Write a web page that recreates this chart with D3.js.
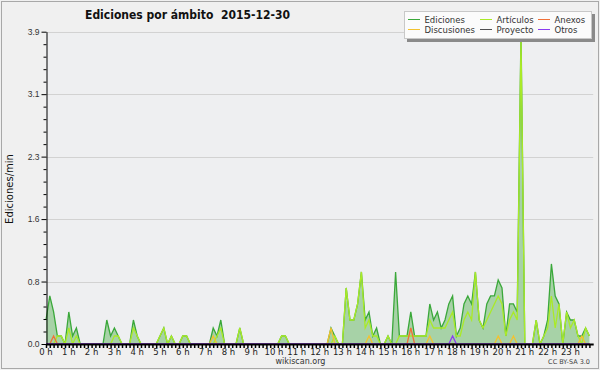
<!DOCTYPE html>
<html><head><meta charset="utf-8">
<script src="https://cdn.jsdelivr.net/npm/d3@7"></script>
<style>html,body{margin:0;padding:0;background:#f0f0f0;} svg{display:block}</style>
</head><body><svg id="c" width="600" height="370"></svg>
<script>
const titleText = "Ediciones por ámbito  2015-12-30";
const yTitle = "Ediciones/min";
const hourLabels = ["0 h","1 h","2 h","3 h","4 h","5 h","6 h","7 h","8 h","9 h","10 h","11 h","12 h","13 h","14 h","15 h","16 h","17 h","18 h","19 h","20 h","21 h","22 h","23 h"];
const yTickValues = [0, 0.78, 1.56, 2.34, 3.12, 3.9];
const yTickLabels = ["0.0","0.8","1.6","2.3","3.1","3.9"];
const legendNames = ["Ediciones","Discusiones","Artículos","Proyecto","Anexos","Otros"];
// 10-minute bins (144 per day), edits per minute
const ediciones = [
0.3,0.6,0.4,0.1,0.1,0,0.4,0.1,0.2,0,0,0,
0,0,0,0,0.3,0.1,0.2,0.1,0,0,0,0.3,
0.1,0,0,0,0,0,0.1,0.2,0,0.1,0,0,
0.1,0.1,0,0,0,0,0,0,0.2,0.1,0.3,0,
0,0,0,0.2,0,0,0,0,0,0,0,0,
0,0,0.1,0.1,0,0,0,0,0,0,0,0,
0,0,0,0.2,0.1,0,0,0.7,0.3,0.3,0.5,0.9,
0.3,0.4,0.1,0.2,0,0,0.1,0,0.9,0.1,0.1,0.1,
0.4,0.1,0.1,0.1,0.1,0.5,0.3,0.4,0.2,0.3,0.5,0.6,
0.1,0.2,0.5,0.6,0.5,0.9,0.3,0.2,0.5,0.6,0.6,0.8,
0.7,0.1,0.5,0.5,0.4,3.9,0,0,0,0.3,0,0.1,
0.3,1.0,0.6,0.5,0,0.4,0.3,0.3,0.1,0.1,0.2,0.1];
const articulos = [
0,0,0,0.1,0.1,0,0.2,0,0.1,0,0,0,
0,0,0,0,0,0,0.1,0.1,0,0,0,0.2,
0.1,0,0,0,0,0,0.1,0.2,0,0.1,0,0,
0.1,0.1,0,0,0,0,0,0,0,0.1,0.2,0,
0,0,0,0.2,0,0,0,0,0,0,0,0,
0,0,0.1,0.1,0,0,0,0,0,0,0,0,
0,0,0,0,0.1,0,0,0.7,0.3,0.3,0.5,0.9,
0.2,0.3,0.1,0.1,0,0,0.1,0,0,0.1,0.1,0.1,
0.1,0.1,0.1,0.1,0.1,0.3,0.2,0.2,0.2,0.2,0.3,0.4,
0.1,0.1,0.3,0.4,0.3,0.9,0.3,0.2,0.3,0.4,0.5,0.6,
0.5,0.1,0.3,0.4,0.3,3.8,0,0,0,0.3,0,0.1,
0.2,0.6,0.2,0.5,0,0.4,0.2,0.3,0.1,0,0.2,0.1];
const anexos = [
0,0,0.1,0,0,0,0,0,0,0,0,0,
0,0,0,0,0,0,0,0,0,0,0,0,
0,0,0,0,0,0,0,0,0,0,0,0,
0,0,0,0,0,0,0,0,0,0,0,0,
0,0,0,0,0,0,0,0,0,0,0,0,
0,0,0,0,0,0,0,0,0,0,0,0,
0,0,0,0,0,0,0,0,0,0,0,0,
0,0,0,0,0,0,0,0,0,0,0,0,
0.2,0,0,0,0,0,0,0,0,0,0,0,
0,0,0,0,0,0,0,0,0,0,0,0,
0,0,0,0,0,0,0,0,0,0,0,0,
0,0,0,0,0,0,0,0,0,0,0,0];
const discusiones = [
0,0,0,0,0,0,0,0,0,0,0,0,
0,0,0,0,0,0,0,0,0,0,0,0,
0,0,0,0,0,0,0,0,0,0,0,0,
0,0,0,0,0,0,0,0,0.1,0,0,0,
0,0,0,0,0,0,0,0,0,0,0,0,
0,0,0,0,0,0,0,0,0,0,0,0,
0,0,0,0.2,0,0,0,0,0,0,0,0,
0,0.1,0,0,0,0,0,0,0,0,0,0,
0,0,0,0,0,0.1,0,0,0,0,0,0,
0,0,0,0,0,0,0,0,0,0,0,0.1,
0,0,0,0.1,0,0,0,0,0,0,0,0,
0,0,0,0,0,0,0,0,0,0.1,0,0];
const proyecto = [
0,0,0,0,0,0,0,0,0,0,0,0,
0,0,0,0,0,0,0,0,0,0,0,0,
0,0,0,0,0,0,0,0,0,0,0,0,
0,0,0,0,0,0,0,0,0,0,0,0,
0,0,0,0,0,0,0,0,0,0,0,0,
0,0,0,0,0,0,0,0,0,0,0,0,
0,0,0,0,0,0,0,0,0,0,0,0,
0,0,0,0,0,0,0,0,0,0,0,0,
0,0,0,0,0,0,0,0,0,0,0,0,
0,0,0,0,0,0,0,0,0,0,0,0,
0,0,0,0,0,0,0,0,0,0,0,0,
0,0,0,0,0,0,0,0,0,0,0,0];
const otros = [
0,0,0,0,0,0,0,0,0,0,0,0,
0,0,0,0,0,0,0,0,0,0,0,0,
0,0,0,0,0,0,0,0,0,0,0,0,
0,0,0,0,0,0,0,0,0,0,0,0,
0,0,0,0,0,0,0,0,0,0,0,0,
0,0,0,0,0,0,0,0,0,0,0,0,
0,0,0,0,0,0,0,0,0,0,0,0,
0,0,0,0,0,0,0,0,0,0,0,0,
0,0,0,0,0,0,0,0,0,0,0,0.1,
0,0,0,0,0,0,0,0,0,0,0,0,
0,0,0,0,0,0,0,0,0,0,0,0,
0,0,0,0,0,0,0,0,0,0,0,0];

const colors = {
  Ediciones: "#3aa83a", Discusiones: "#f2c230", "Artículos": "#aaea28",
  Proyecto: "#505050", Anexos: "#f07038", Otros: "#8a3cf0"
};
const fillColor = "#a2d0a2";

const svg = d3.select("#c");
const W = 600, H = 370;
const pL = 46, pR = 593.2, pT = 31.7, pB = 344;
const x = d3.scaleLinear().domain([0, 24]).range([pL, pR]);
const y = d3.scaleLinear().domain([0, 3.9]).range([pB, pT]);

svg.append("rect").attr("x",0).attr("y",0).attr("width",W).attr("height",H).attr("fill","#f0f0f0");
svg.append("rect").attr("x",1.5).attr("y",1.5).attr("width",W-3).attr("height",H-3)
  .attr("fill","none").attr("stroke","#a8a8a8").attr("stroke-width",1);
svg.append("rect").attr("x",pL).attr("y",pT).attr("width",pR-pL).attr("height",pB-pT).attr("fill","#eeeff1");

svg.append("g").selectAll("line").data(yTickValues.slice(1)).join("line")
  .attr("x1",pL).attr("x2",pR).attr("y1",d=>Math.round(y(d))+0.5).attr("y2",d=>Math.round(y(d))+0.5)
  .attr("stroke","#d2d2d2").attr("stroke-width",1);

const tOf = i => i/6;
const area = d3.area().x((d,i)=>x(tOf(i))).y0(pB).y1(d=>y(d));
svg.append("path").datum(ediciones).attr("d",area).attr("fill",fillColor).attr("opacity",0.95);

const line = d3.line().x((d,i)=>x(tOf(i))).y(d=>y(d));
const seriesDraw = [
  ["Ediciones", ediciones], ["Artículos", articulos], ["Discusiones", discusiones],
  ["Anexos", anexos], ["Proyecto", proyecto], ["Otros", otros]
];
seriesDraw.forEach(([name, vals]) => {
  svg.append("path").datum(vals).attr("d", line).attr("fill","none")
    .attr("stroke", colors[name]).attr("stroke-width", 1.3).attr("stroke-linejoin","miter");
});

const yMinor = [];
for (let k = 0; k < yTickValues.length - 1; k++) {
  for (let j = 1; j < 5; j++) yMinor.push(yTickValues[k] + (yTickValues[k+1]-yTickValues[k])*j/5);
}
const gyMinor = svg.append("g").attr("transform",`translate(${pL+0.5},0)`)
  .call(d3.axisLeft(y).tickValues(yMinor).tickSize(3).tickFormat(""));
gyMinor.select(".domain").remove();
gyMinor.selectAll("line").attr("stroke","#000");
const gy = svg.append("g").attr("transform",`translate(${pL+0.5},0)`)
  .call(d3.axisLeft(y).tickValues(yTickValues).tickSize(5).tickSizeOuter(0).tickPadding(2)
    .tickFormat((d,i)=>yTickLabels[i]));
gy.selectAll("line").attr("stroke","#000");
gy.select(".domain").attr("stroke","#000");
gy.selectAll("text").attr("font-family","Liberation Sans, Arial, sans-serif").attr("font-size",8.5).attr("fill","#333");

const minorT = d3.range(144).map(i => i/6);
const gx = svg.append("g").attr("transform",`translate(0,${pB})`)
  .call(d3.axisBottom(x).tickValues(minorT).tickSize(4).tickSizeOuter(0).tickFormat(""));
gx.select(".domain").attr("stroke","#000").attr("stroke-width",2.2);
gx.selectAll(".tick line").attr("stroke","#000").attr("stroke-width",1.5);
svg.append("g").selectAll("text").data(hourLabels).join("text")
  .attr("x",(d,i)=>x(i)).attr("y",354.5).attr("text-anchor","middle")
  .attr("font-family","DejaVu Sans, sans-serif").attr("font-size",8.5).attr("fill","#222")
  .text(d=>d);

svg.append("text").attr("x",85).attr("y",18.5).attr("font-family","DejaVu Sans, sans-serif")
  .attr("font-weight","bold").attr("font-size",12).attr("fill","#111")
  .attr("textLength",205).attr("lengthAdjust","spacingAndGlyphs")
  .style("white-space","pre").text(titleText);
svg.append("text").attr("transform","translate(13,189) rotate(-90)").attr("text-anchor","middle")
  .attr("font-family","DejaVu Sans, sans-serif").attr("font-size",10).attr("fill","#111").text(yTitle);
svg.append("text").attr("x",300.5).attr("y",364).attr("text-anchor","middle")
  .attr("font-family","DejaVu Sans, sans-serif").attr("font-size",8).attr("fill","#333").text("wikiscan.org");
svg.append("text").attr("x",590).attr("y",364).attr("text-anchor","end")
  .attr("font-family","DejaVu Sans, sans-serif").attr("font-size",6.5).attr("fill","#444").text("CC BY-SA 3.0");

const lg = svg.append("g");
lg.append("rect").attr("x",407).attr("y",14).attr("width",188).attr("height",28).attr("fill","#8a8a8a");
lg.append("rect").attr("x",404.5).attr("y",11.5).attr("width",187).attr("height",27).attr("fill","#fbfbfb").attr("stroke","#c8c8c8");
const colX = [408, 480, 538];
const rowY = [22.5, 32.5];
legendNames.forEach((name, i) => {
  const c = Math.floor(i/2), r = i%2;
  lg.append("line").attr("x1",colX[c]).attr("x2",colX[c]+12).attr("y1",rowY[r]-3).attr("y2",rowY[r]-3)
    .attr("stroke",colors[name]).attr("stroke-width",1);
  lg.append("text").attr("x",colX[c]+16.5).attr("y",rowY[r]).attr("font-family","DejaVu Sans, sans-serif")
    .attr("font-size",8.5).attr("fill","#333").text(name);
});
</script></body></html>
